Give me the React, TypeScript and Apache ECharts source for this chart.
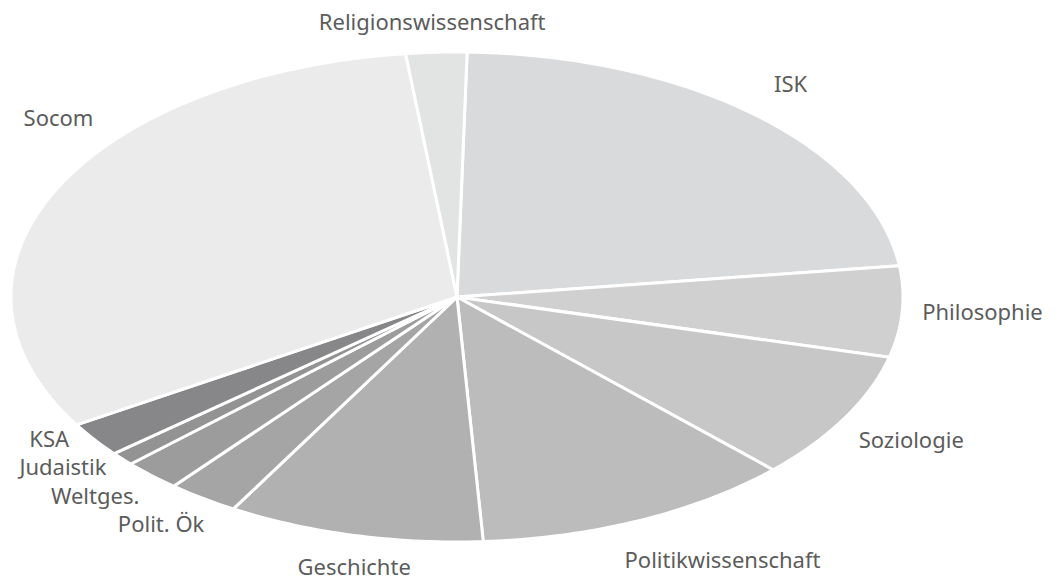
import React, { useEffect, useRef } from "react";
import * as echarts from "echarts";

// Data (clockwise from the top)
const categories = [
  "ISK",
  "Philosophie",
  "Soziologie",
  "Politikwissenschaft",
  "Geschichte",
  "Polit. Ök",
  "Weltges.",
  "Judaistik",
  "KSA",
  "Socom",
  "Religionswissenschaft",
];
const values = [22.6, 6.0, 8.5, 11.6, 9.3, 2.6, 2.1, 0.9, 2.3, 31.9, 2.2];
const colors = [
  "#d9dadb",
  "#d0d0d1",
  "#c7c7c8",
  "#bcbcbd",
  "#b1b1b2",
  "#a5a5a6",
  "#9c9c9d",
  "#939394",
  "#87878a",
  "#ebebeb",
  "#e2e3e3",
];

// Layout
const START_ANGLE = 88.7;
const CX = 457;
const CY = 297;
const RX = 446;
const RY = 245;
const LABEL_GAP = 25;
// label fine-tuning: [dx, dy, align override]
const labelNudge: Record<string, [number, number, string?]> = {
  ISK: [2, -13],
  Philosophie: [-5, -2],
  Soziologie: [-8, 9],
  Politikwissenschaft: [-26, 16],
  Geschichte: [6, 6],
  "Polit. Ök": [16, 4],
  "Weltges.": [5, 1],
  Judaistik: [3, -9],
  KSA: [-5, -16],
  Socom: [25, -62, "center"],
  Religionswissenschaft: [-3, -6],
};

export default function App() {
  const ref = useRef<HTMLDivElement>(null);
  useEffect(() => {
    document.body.style.margin = "0";
    const chart = echarts.init(ref.current!, null, { renderer: "svg" });
    const total = values.reduce((a, b) => a + b, 0);
    chart.setOption({
      animation: false,
      backgroundColor: "#ffffff",
      series: [
        {
          type: "custom",
          coordinateSystem: "none",
          data: values.map((v, i) => ({ name: categories[i], value: v })),
          renderItem: (params: any, api: any) => {
            const i = params.dataIndex;
            let before = 0;
            for (let j = 0; j < i; j++) before += values[j];
            const v = api.value(0);
            const a0 = START_ANGLE - (before / total) * 360;
            const a1 = a0 - (v / total) * 360;
            const pts: number[][] = [[CX, CY]];
            const n = Math.max(2, Math.ceil(a0 - a1));
            for (let k = 0; k <= n; k++) {
              const t = ((a0 - ((a0 - a1) * k) / n) * Math.PI) / 180;
              pts.push([CX + RX * Math.cos(t), CY - RY * Math.sin(t)]);
            }
            const mid = (((a0 + a1) / 2) * Math.PI) / 180;
            const c = Math.cos(mid);
            const s = Math.sin(mid);
            const name = categories[i];
            const nudge = labelNudge[name] || [0, 0];
            let align = Math.abs(c) < 0.3 ? "center" : c > 0 ? "left" : "right";
            if (nudge[2]) align = nudge[2];
            const lx = CX + (RX + LABEL_GAP) * c + nudge[0];
            const ly = CY - (RY + LABEL_GAP) * s + nudge[1];
            return {
              type: "group",
              children: [
                {
                  type: "polygon",
                  shape: { points: pts },
                  style: {
                    fill: colors[i],
                    stroke: "#ffffff",
                    lineWidth: 3,
                    lineJoin: "round",
                  },
                },
                {
                  type: "text",
                  x: lx,
                  y: ly,
                  style: {
                    text: name,
                    fill: "#5c5c5c",
                    font: '22px "Noto Sans"',
                    textAlign: align,
                    textVerticalAlign: "middle",
                  },
                },
              ],
            };
          },
        },
      ],
    });
    return () => chart.dispose();
  }, []);
  return <div ref={ref} style={{ width: 1057, height: 580 }} />;
}
